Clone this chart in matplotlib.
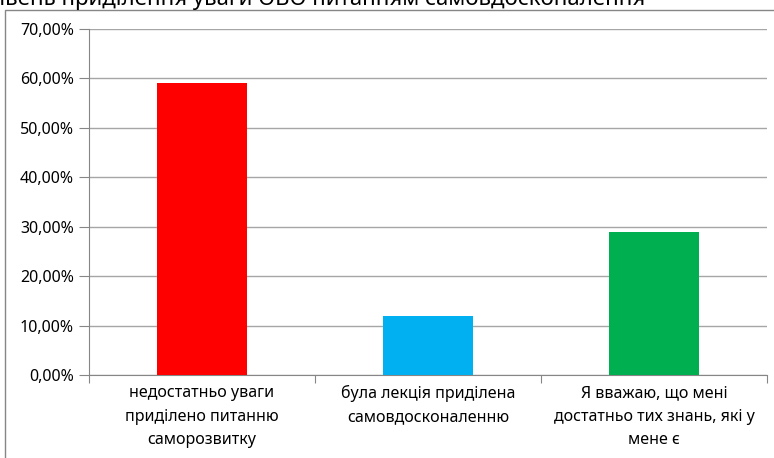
import matplotlib
matplotlib.use("Agg")
import matplotlib.pyplot as plt
from matplotlib.patches import Rectangle
from matplotlib.ticker import FuncFormatter, MultipleLocator

title = "Рівень приділення уваги ОВО питанням самовдосконалення"
categories = [
    "недостатньо уваги\nприділено питанню\nсаморозвитку",
    "була лекція приділена\nсамовдосконаленню",
    "Я вважаю, що мені\nдостатньо тих знань, які у\nмене є",
]
values = [0.59, 0.12, 0.29]
colors = ["#FF0000", "#00B0F0", "#00B050"]

W, H = 774, 458
plt.rcParams['font.family'] = ['Noto Sans', 'DejaVu Sans']
fig = plt.figure(figsize=(W / 100, H / 100), dpi=100)

# chart frame
fig.patches.append(Rectangle((5 / W, -0.1), 1.2, (H - 10) / H + 0.1,
                             transform=fig.transFigure, fill=False,
                             edgecolor="#868686", linewidth=1.0))

ax = fig.add_axes([89 / W, (H - 375) / H, (767 - 89) / W, (375 - 29) / H])
x = list(range(len(categories)))
ax.bar(x, values, width=0.4, color=colors, zorder=3)
ax.set_xlim(-0.5, len(categories) - 0.5)
ax.set_ylim(0, 0.70)
ax.yaxis.set_major_locator(MultipleLocator(0.10))
ax.yaxis.set_major_formatter(FuncFormatter(lambda v, p: f"{v*100:.2f}%".replace(".", ",")))
ax.grid(axis="y", color="#A6A6A6", linewidth=1.0, zorder=0)
for s in ["top", "right"]:
    ax.spines[s].set_visible(False)
for s in ["left", "bottom"]:
    ax.spines[s].set_color("#868686")
ax.tick_params(axis="y", length=7, color="#868686", labelsize=11.5, pad=4, labelcolor="#000000")
ax.set_xticks([i - 0.5 for i in range(len(categories) + 1)])
ax.set_xticklabels([])
ax.tick_params(axis="x", length=6, color="#868686")
for i, c in enumerate(categories):
    ax.text(i, -0.021, c, ha="center", va="top", fontsize=11.5, linespacing=1.6)

fig.text(645 / W, 1 - 5 / H, title, ha="right", va="baseline", fontsize=16)

fig.savefig("out.png", dpi=100)
